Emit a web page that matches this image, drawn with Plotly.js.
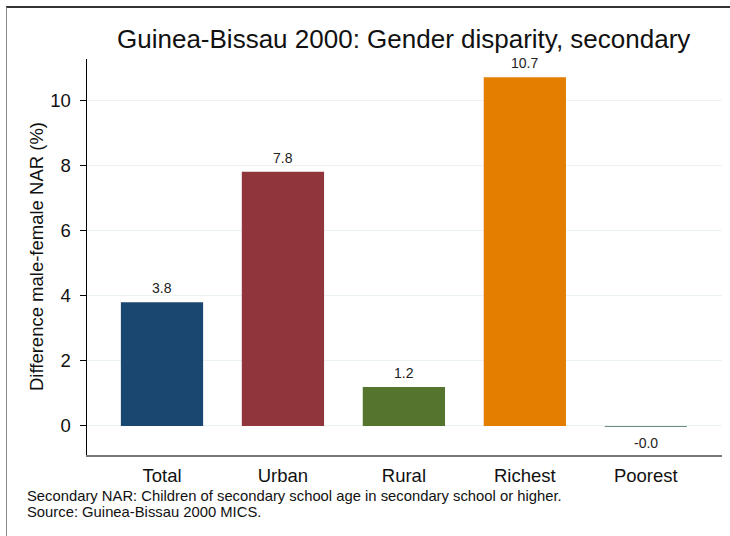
<!DOCTYPE html>
<html>
<head>
<meta charset="utf-8">
<script src="https://cdn.plot.ly/plotly-3.0.1.min.js"></script>
<style>
html,body{margin:0;padding:0;background:#fff;}
#wrap{position:relative;width:730px;height:536px;}
#chart{width:730px;height:536px;}
#frame{position:absolute;left:6px;top:6px;width:724px;height:530px;border-top:2px solid #333;border-left:1px solid #888;pointer-events:none;}
</style>
</head>
<body>
<div id="wrap"><div id="chart"></div><div id="frame"></div></div>
<script>
const categories = ["Total", "Urban", "Rural", "Richest", "Poorest"];
const values = [3.8, 7.8, 1.2, 10.7, -0.03];
const valueLabels = ["3.8", "7.8", "1.2", "10.7", "-0.0"];
const barColors = ["#1a476f", "#90353b", "#55752f", "#e37e00", "#6e8e84"];
const yTicks = [0, 2, 4, 6, 8, 10];
const noteLines = [
  "Secondary NAR: Children of secondary school age in secondary school or higher.",
  "Source: Guinea-Bissau 2000 MICS."
];

const font = "Liberation Sans, Arial, Helvetica, sans-serif";

const trace = {
  type: "bar",
  x: categories,
  y: values,
  width: 0.68,
  marker: {color: barColors, line: {width: 0}},
  hoverinfo: "x+y"
};

const valueAnnotations = categories.map((c, i) => ({
  x: c, y: values[i], xref: "x", yref: "y",
  text: valueLabels[i], showarrow: false,
  xanchor: "center", yanchor: "middle",
  yshift: values[i] >= 0 ? 14 : -16,
  font: {family: font, size: 14, color: "#222"}
}));

const noteAnnotations = noteLines.map((t, i) => ({
  xref: "paper", yref: "paper", x: -0.0976, y: -0.1035 - i * 0.0415,
  xanchor: "left", yanchor: "middle", align: "left", showarrow: false,
  text: t, font: {family: font, size: 14.8, color: "#111"}
}));

const layout = {
  width: 730, height: 536,
  paper_bgcolor: "#fff", plot_bgcolor: "#fff",
  margin: {l: 87, r: 8, t: 59, b: 81},
  showlegend: false,
  title: {text: "Guinea-Bissau 2000: Gender disparity, secondary",
          font: {family: font, size: 26, color: "#111"},
          x: 0.553, xanchor: "center", y: 0.927, yanchor: "middle"},
  xaxis: {
    range: [-0.62, 4.63], showgrid: false, zeroline: false,
    showline: true, linecolor: "#777", linewidth: 2,
    ticks: "", tickfont: {family: font, size: 18.5, color: "#111"},
    ticklabelstandoff: 3
  },
  yaxis: {
    range: [-0.89, 11.26], tickvals: yTicks, ticktext: yTicks.map(String),
    showgrid: true, gridcolor: "#eaf2f3", gridwidth: 1, zeroline: false,
    showline: true, linecolor: "#000", linewidth: 1.5,
    ticks: "outside", ticklen: 6, tickcolor: "#000",
    tickfont: {family: font, size: 18.5, color: "#111"},
    ticklabelstandoff: 5
  },
  annotations: [
    {xref: "paper", yref: "paper", x: -0.0803, y: 0.5, xanchor: "center", yanchor: "middle",
     textangle: -90, showarrow: false, text: "Difference male-female NAR (%)",
     font: {family: font, size: 18.5, color: "#111"}},
    ...valueAnnotations,
    ...noteAnnotations
  ]
};

Plotly.newPlot("chart", [trace], layout, {displayModeBar: false, staticPlot: true});
</script>
</body>
</html>
